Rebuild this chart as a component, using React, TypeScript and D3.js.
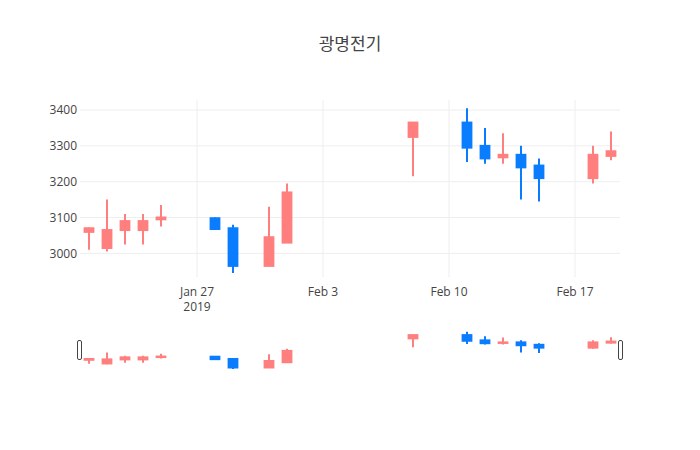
import React from "react";
import * as d3 from "d3";

const dates = [
  "2019-01-21", "2019-01-22", "2019-01-23", "2019-01-24", "2019-01-25",
  "2019-01-28", "2019-01-29", "2019-01-31", "2019-02-01", "2019-02-08",
  "2019-02-11", "2019-02-12", "2019-02-13", "2019-02-14", "2019-02-15",
  "2019-02-18", "2019-02-19",
];
const opens = [3060, 3015, 3065, 3065, 3095, 3098, 3070, 2965, 3030, 3325, 3365, 3300, 3268, 3275, 3245, 3210, 3272];
const highs = [3072, 3150, 3110, 3110, 3135, 3100, 3080, 3130, 3195, 3365, 3405, 3350, 3335, 3300, 3265, 3300, 3340];
const lows = [3010, 3005, 3025, 3025, 3075, 3065, 2945, 2965, 3030, 3215, 3255, 3250, 3250, 3150, 3145, 3195, 3260];
const closes = [3070, 3065, 3090, 3090, 3100, 3068, 2965, 3045, 3170, 3365, 3295, 3265, 3275, 3240, 3210, 3275, 3285];
const yTicks = [3000, 3100, 3200, 3300, 3400];

const title = "광명전기";
const UP = "#ff7f7f";
const DOWN = "#0a7dff";
const FONT = "'Open Sans', 'Noto Sans CJK KR', verdana, arial, sans-serif";

const W = 700;
const H = 450;
const margin = { left: 80, right: 80, top: 100 };
const plotBottom = 277;
const sliderTop = 330;
const sliderBottom = 370;

const parse = d3.timeParse("%Y-%m-%d");
const DAY = 24 * 3600 * 1000;

const candles = dates.map((d, i) => ({
  date: parse(d) as Date,
  open: opens[i],
  high: highs[i],
  low: lows[i],
  close: closes[i],
}));

const first = candles[0].date.getTime();
const last = candles[candles.length - 1].date.getTime();

const x = d3
  .scaleTime()
  .domain([new Date(first - DAY / 2), new Date(last + DAY / 2)])
  .range([margin.left, W - margin.right]);

const yDomain: [number, number] = [2934, 3428];
const y = d3.scaleLinear().domain(yDomain).range([plotBottom, margin.top]);
const ySlider = d3.scaleLinear().domain(yDomain).range([sliderBottom, sliderTop]);

const dayPx = x(new Date(first + DAY)) - x(new Date(first));
const bodyW = dayPx * 0.6 - 2;

const fmtDay = d3.timeFormat("%b %-d");

function Candles({ ys }: { ys: d3.ScaleLinear<number, number> }) {
  return (
    <g>
      {candles.map((c, i) => {
        const cx = x(c.date);
        const color = c.close >= c.open ? UP : DOWN;
        const top = ys(Math.max(c.open, c.close));
        const bot = ys(Math.min(c.open, c.close));
        return (
          <g key={i}>
            <line x1={cx} x2={cx} y1={ys(c.high)} y2={ys(c.low)} stroke={color} strokeWidth={2} />
            <rect
              x={cx - bodyW / 2}
              y={top}
              width={bodyW}
              height={Math.max(bot - top, 0.5)}
              fill={color}
              stroke={color}
              strokeWidth={2}
            />
          </g>
        );
      })}
    </g>
  );
}

export default function App() {
  const xTicks = x.ticks(d3.timeWeek.every(1) as d3.TimeInterval);
  const x0 = margin.left;
  const x1 = W - margin.right;

  return (
    <div style={{ position: "fixed", left: 0, top: 0 }}>
      <svg width={W} height={H} style={{ display: "block", background: "#fff" }} fontFamily={FONT}>
        <defs>
          <clipPath id="main-clip">
            <rect x={x0} y={margin.top} width={x1 - x0} height={plotBottom - margin.top} />
          </clipPath>
          <clipPath id="slider-clip">
            <rect x={x0} y={sliderTop} width={x1 - x0} height={sliderBottom - sliderTop} />
          </clipPath>
        </defs>

        {/* grid */}
        <g>
          {yTicks.map((t) => (
            <line key={t} x1={x0} x2={x1} y1={y(t)} y2={y(t)} stroke="#eee" strokeWidth={1} />
          ))}
          {xTicks.map((t, i) => (
            <line key={i} x1={x(t)} x2={x(t)} y1={margin.top} y2={plotBottom} stroke="#eee" strokeWidth={1} />
          ))}
        </g>

        {/* y tick labels */}
        <g fontSize={12} fill="#444" textAnchor="end">
          {yTicks.map((t) => (
            <text key={t} x={x0 - 3} y={y(t) + 4.2}>
              {t}
            </text>
          ))}
        </g>

        {/* x tick labels */}
        <g fontSize={12} fill="#444" textAnchor="middle">
          {xTicks.map((t, i) => (
            <text key={i} x={x(t)} y={296}>
              {fmtDay(t)}
              {i === 0 && (
                <tspan x={x(t)} y={311}>
                  {t.getFullYear()}
                </tspan>
              )}
            </text>
          ))}
        </g>

        <g clipPath="url(#main-clip)">
          <Candles ys={y} />
        </g>

        {/* range slider */}
        <rect x={x0} y={sliderTop} width={x1 - x0} height={sliderBottom - sliderTop} fill="#fff" />
        <g clipPath="url(#slider-clip)">
          <Candles ys={ySlider} />
        </g>
        {[x0, x1].map((hx, i) => (
          <rect
            key={i}
            x={hx - 2 + (i === 0 ? -0.5 : 0.5)}
            y={340.5}
            width={4}
            height={19}
            rx={1.5}
            fill="#fff"
            stroke="#444"
            strokeWidth={1}
          />
        ))}

        <text x={W / 2} y={50} textAnchor="middle" fontSize={17} fill="#444">
          {title}
        </text>
      </svg>
    </div>
  );
}
